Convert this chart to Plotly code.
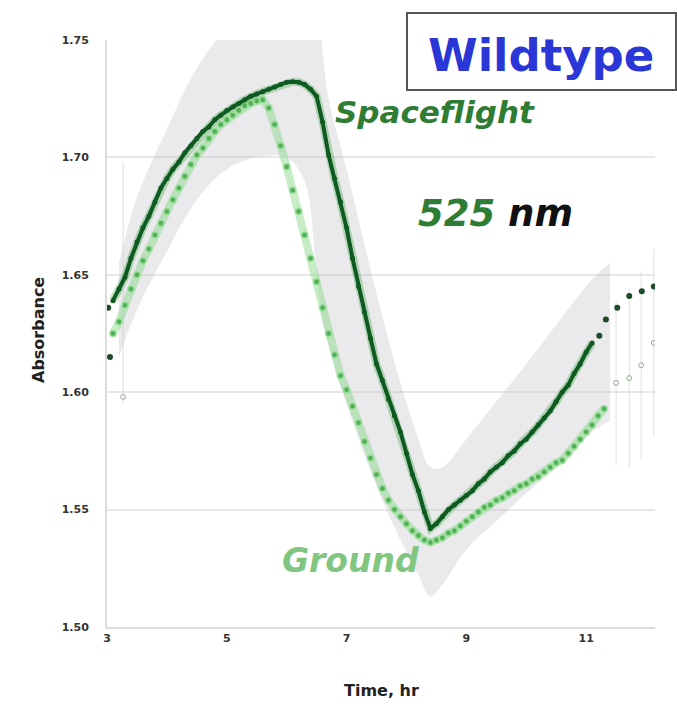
import plotly.graph_objects as go

# ---------------- data ----------------
time_sf = [3.1, 3.2, 3.3, 3.4, 3.5, 3.6, 3.7, 3.8, 3.9, 4.0, 4.1, 4.2, 4.3, 4.4, 4.5, 4.6, 4.7, 4.8, 4.9,
           5.0, 5.1, 5.2, 5.3, 5.4, 5.5, 5.6, 5.7, 5.8, 5.9, 6.0, 6.1, 6.2, 6.3, 6.4, 6.5, 6.6, 6.7, 6.8, 6.9,
           7.0, 7.1, 7.2, 7.3, 7.4, 7.5, 7.6, 7.7, 7.8, 7.9, 8.0, 8.1, 8.2, 8.3, 8.4, 8.5, 8.6, 8.7, 8.8, 8.9,
           9.0, 9.1, 9.2, 9.3, 9.4, 9.5, 9.6, 9.7, 9.8, 9.9, 10.0, 10.1, 10.2, 10.3, 10.4, 10.5, 10.6, 10.7,
           10.8, 10.9, 11.0, 11.1]
spaceflight = [1.639, 1.644, 1.649, 1.657, 1.664, 1.670, 1.675, 1.681, 1.687, 1.691, 1.695, 1.698, 1.702,
               1.705, 1.708, 1.711, 1.713, 1.716, 1.718, 1.720, 1.7215, 1.723, 1.7245, 1.726, 1.727, 1.728,
               1.729, 1.730, 1.731, 1.732, 1.7322, 1.732, 1.731, 1.729, 1.726, 1.715, 1.701, 1.691, 1.681,
               1.670, 1.657, 1.645, 1.634, 1.623, 1.612, 1.605, 1.597, 1.590, 1.583, 1.574, 1.565, 1.558,
               1.549, 1.542, 1.544, 1.547, 1.550, 1.552, 1.554, 1.556, 1.558, 1.561, 1.563, 1.566, 1.568,
               1.570, 1.573, 1.575, 1.578, 1.580, 1.583, 1.586, 1.589, 1.592, 1.596, 1.600, 1.603, 1.608,
               1.612, 1.617, 1.621]
sf_early_time = [3.02, 3.05]
sf_early = [1.636, 1.615]
sf_tail_time = [11.22, 11.33, 11.52, 11.72, 11.93, 12.13]
sf_tail = [1.624, 1.631, 1.636, 1.641, 1.643, 1.645]

time_gr = [3.1, 3.2, 3.3, 3.4, 3.5, 3.6, 3.7, 3.8, 3.9, 4.0, 4.1, 4.2, 4.3, 4.4, 4.5, 4.6, 4.7, 4.8, 4.9,
           5.0, 5.1, 5.2, 5.3, 5.4, 5.5, 5.6, 5.7, 5.8, 5.9, 6.0, 6.1, 6.2, 6.3, 6.4, 6.5, 6.6, 6.7, 6.8, 6.9,
           7.0, 7.1, 7.2, 7.3, 7.4, 7.5, 7.6, 7.7, 7.8, 7.9, 8.0, 8.1, 8.2, 8.3, 8.4, 8.5, 8.6, 8.7, 8.8, 8.9,
           9.0, 9.1, 9.2, 9.3, 9.4, 9.5, 9.6, 9.7, 9.8, 9.9, 10.0, 10.1, 10.2, 10.3, 10.4, 10.5, 10.6, 10.7,
           10.8, 10.9, 11.0, 11.1, 11.2, 11.3]
ground = [1.625, 1.630, 1.637, 1.644, 1.650, 1.656, 1.661, 1.667, 1.672, 1.677, 1.682, 1.687, 1.692, 1.697,
          1.701, 1.704, 1.708, 1.711, 1.714, 1.716, 1.718, 1.720, 1.722, 1.723, 1.724, 1.7245, 1.721, 1.714,
          1.705, 1.696, 1.686, 1.677, 1.667, 1.657, 1.647, 1.636, 1.625, 1.616, 1.607, 1.601, 1.594, 1.587,
          1.579, 1.572, 1.565, 1.559, 1.554, 1.550, 1.547, 1.544, 1.541, 1.539, 1.537, 1.536, 1.537, 1.538,
          1.540, 1.541, 1.543, 1.545, 1.547, 1.549, 1.551, 1.552, 1.554, 1.555, 1.557, 1.558, 1.560, 1.561,
          1.563, 1.564, 1.566, 1.568, 1.570, 1.571, 1.574, 1.577, 1.580, 1.583, 1.586, 1.590, 1.593]
gr_early_time = [3.27]
gr_early = [1.598]
gr_early_err_up = [0.100]
gr_tail_time = [11.5, 11.72, 11.92, 12.13]
gr_tail = [1.604, 1.606, 1.6115, 1.621]
gr_tail_err = [0.035, 0.038, 0.04, 0.04]

band_time = [3.2, 3.5, 4.0, 4.5, 5.0, 5.5, 6.0, 6.3, 6.5, 6.6, 6.7, 7.0, 7.5, 7.9, 8.2, 8.4, 8.6, 9.0,
             9.5, 10.0, 10.6, 11.1, 11.4]
band_upper = [1.655, 1.683, 1.712, 1.738, 1.755, 1.765, 1.770, 1.770, 1.765, 1.745, 1.725, 1.695, 1.642,
              1.604, 1.580, 1.568, 1.568, 1.580, 1.596, 1.612, 1.632, 1.648, 1.655]
band_lower = [1.615, 1.635, 1.660, 1.682, 1.695, 1.700, 1.700, 1.690, 1.650, 1.630, 1.620, 1.595, 1.560,
              1.537, 1.522, 1.513, 1.518, 1.533, 1.545, 1.557, 1.570, 1.583, 1.588]

x_ticks = [3, 5, 7, 9, 11]
y_ticks = [1.50, 1.55, 1.60, 1.65, 1.70, 1.75]
y_tick_labels = ["1.50", "1.55", "1.60", "1.65", "1.70", "1.75"]

# ---------------- colours ----------------
DARK = "#0e5a22"
MID_GREEN = "#2f7d34"
LIGHT = "#55ad5a"
FONT = "DejaVu Sans"

fig = go.Figure()

# confidence band
fig.add_trace(go.Scatter(x=band_time, y=band_lower, mode="lines", line=dict(width=0, shape="spline"),
                         hoverinfo="skip", showlegend=False))
fig.add_trace(go.Scatter(x=band_time, y=band_upper, mode="lines", line=dict(width=0, shape="spline"),
                         fill="tonexty", fillcolor="rgba(190,188,198,0.33)", hoverinfo="skip",
                         showlegend=False))

# error bars / faint points
fig.add_trace(go.Scatter(x=gr_early_time, y=gr_early, mode="markers",
                         marker=dict(size=5, symbol="circle-open", color="rgba(140,150,140,0.8)"),
                         error_y=dict(type="data", array=gr_early_err_up, arrayminus=[0.003],
                                      color="rgba(200,200,200,0.6)", thickness=1, width=0),
                         showlegend=False))
fig.add_trace(go.Scatter(x=gr_tail_time, y=gr_tail, mode="markers",
                         marker=dict(size=5, symbol="circle-open", color="rgba(130,160,130,0.85)"),
                         error_y=dict(type="data", array=gr_tail_err, color="rgba(205,205,205,0.6)",
                                      thickness=1, width=0),
                         showlegend=False))

# Ground
fig.add_trace(go.Scatter(x=time_gr, y=ground, mode="lines", line=dict(color="rgba(130,215,130,0.45)", width=8),
                         hoverinfo="skip", showlegend=False))
fig.add_trace(go.Scatter(x=time_gr, y=ground, mode="markers", name="Ground",
                         marker=dict(size=6, color=LIGHT, line=dict(width=1.5, color="rgba(150,225,150,0.9)")),
                         showlegend=False))

# Spaceflight
fig.add_trace(go.Scatter(x=time_sf, y=spaceflight, mode="lines",
                         line=dict(color="rgba(70,170,70,0.35)", width=8),
                         hoverinfo="skip", showlegend=False))
fig.add_trace(go.Scatter(x=time_sf, y=spaceflight, mode="lines+markers", name="Spaceflight",
                         line=dict(color=DARK, width=4), marker=dict(size=5, color=DARK),
                         showlegend=False))
fig.add_trace(go.Scatter(x=sf_early_time, y=sf_early, mode="markers",
                         marker=dict(size=6, color="#1d4a28"), showlegend=False))
fig.add_trace(go.Scatter(x=sf_tail_time, y=sf_tail, mode="markers",
                         marker=dict(size=6, color="#1d4a28"), showlegend=False))

# ---------------- layout ----------------
L, R, T, B = 107, 22, 40, 81
W, H = 677, 708
pw, ph = W - L - R, H - T - B


def px(x):
    return (x - L) / pw


def py(y):
    return (H - B - y) / ph


fig.update_layout(
    width=W, height=H,
    margin=dict(l=L, r=R, t=T, b=B, pad=0),
    paper_bgcolor="white", plot_bgcolor="white",
    xaxis=dict(range=[3, 12.15], tickvals=x_ticks, ticktext=[str(v) for v in x_ticks],
               showgrid=False, zeroline=False, showline=True, linecolor="#dcdcdc", linewidth=2,
               ticks="", tickfont=dict(family=FONT, size=11, color="#333", weight="bold")),
    yaxis=dict(range=[1.50, 1.75], tickvals=y_ticks, ticktext=y_tick_labels,
               showgrid=True, gridcolor="#e8e8e8", gridwidth=2, zeroline=False,
               showline=True, linecolor="#dcdcdc", linewidth=2, ticks="", ticklabelstandoff=14,
               tickfont=dict(family=FONT, size=11, color="#333", weight="bold")),
    font=dict(family=FONT),
)

fig.add_shape(type="rect", xref="paper", yref="paper",
              x0=px(407), x1=px(676), y0=py(90), y1=py(13),
              line=dict(color="#555", width=2), fillcolor="white", layer="above")

ann = [
    dict(text="<b>Wildtype</b>", x=px(541), y=py(55), font=dict(size=45, color="#2a37d6")),
    dict(text="<b><i>Spaceflight</i></b>", x=px(435), y=py(112), font=dict(size=31, color=MID_GREEN)),
    dict(text="<b><i><span style='color:#2f7d34'>525</span> nm</i></b>", x=px(495), y=py(213),
         font=dict(size=37, color="#111")),
    dict(text="<b><i>Ground</i></b>", x=px(350), y=py(560), font=dict(size=33, color="#80c680")),
    dict(text="<b>Absorbance</b>", x=px(38), y=py(330), textangle=-90, font=dict(size=16, color="#222")),
    dict(text="<b>Time, hr</b>", x=px(381), y=py(690), font=dict(size=16, color="#222")),
]
for a in ann:
    fig.add_annotation(xref="paper", yref="paper", showarrow=False, xanchor="center", yanchor="middle", **a)

fig.write_html("out.html")
